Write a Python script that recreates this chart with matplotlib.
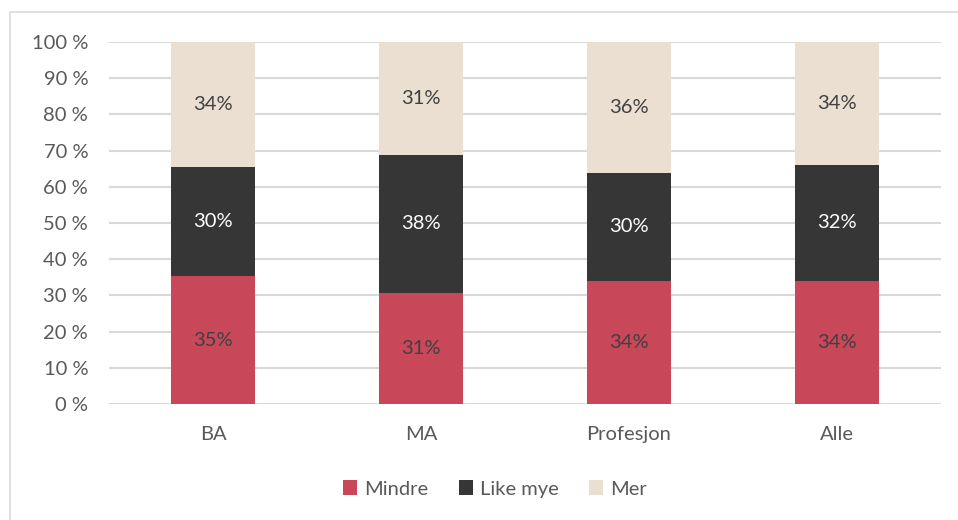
import matplotlib.pyplot as plt
import numpy as np
from matplotlib.patches import Rectangle

plt.rcParams['font.family'] = ['Lato', 'DejaVu Sans']

# Dados (em %)
categories = ["BA", "MA", "Profesjon", "Alle"]
series_names = ["Mindre", "Like mye", "Mer"]
mindre = [35.3, 30.7, 34.0, 34.0]
like_mye = [30.2, 38.1, 29.8, 32.0]
mer = [34.5, 31.2, 36.2, 34.0]
yticks = [0, 10, 20, 30, 40, 50, 60, 70, 80, 90, 100]

colors = ["#C8485A", "#363636", "#EADFD0"]
text_colors = ["#404040", "#FFFFFF", "#404040"]

fig = plt.figure(figsize=(9.58, 5.2), dpi=100)
ax = fig.add_axes([109 / 958, 116 / 520, 832 / 958, 362 / 520])

# borda do gráfico
fig.patches.append(Rectangle((10 / 958, -0.1), 2, 1.1 - 12 / 520, transform=fig.transFigure,
                             fill=False, edgecolor="#D9D9D9", linewidth=1.2))

x = np.arange(len(categories))
bottom = np.zeros(len(categories))
for name, vals, col, tcol in zip(series_names, [mindre, like_mye, mer], colors, text_colors):
    vals = np.array(vals)
    ax.bar(x, vals, width=0.4, bottom=bottom, color=col, label=name, zorder=3)
    for xi, b, v in zip(x, bottom, vals):
        ax.text(xi, b + v / 2, f"{round(v):.0f}%", ha="center", va="center",
                color=tcol, fontsize=14.5, zorder=4)
    bottom += vals

ax.set_xlim(-0.5, len(categories) - 0.5)
ax.set_ylim(0, 100)
ax.set_yticks(yticks)
ax.set_yticklabels([f"{t} %" for t in yticks])
ax.set_xticks(x)
ax.set_xticklabels(categories)
ax.tick_params(axis="both", length=0, labelsize=14.5, labelcolor="#595959")
ax.tick_params(axis="y", pad=15)
ax.tick_params(axis="x", pad=16)
ax.grid(axis="y", color="#D9D9D9", linewidth=1.5, zorder=0)
for s in ax.spines.values():
    s.set_visible(False)

leg = fig.legend(loc="center", bbox_to_anchor=(495 / 958, 1 - 489 / 520), ncol=3, frameon=False,
                 fontsize=14.5, handlelength=0.7, handleheight=0.7, handletextpad=0.35,
                 columnspacing=1.5)
for t in leg.get_texts():
    t.set_color("#595959")

fig.savefig("out.png", dpi=100)
